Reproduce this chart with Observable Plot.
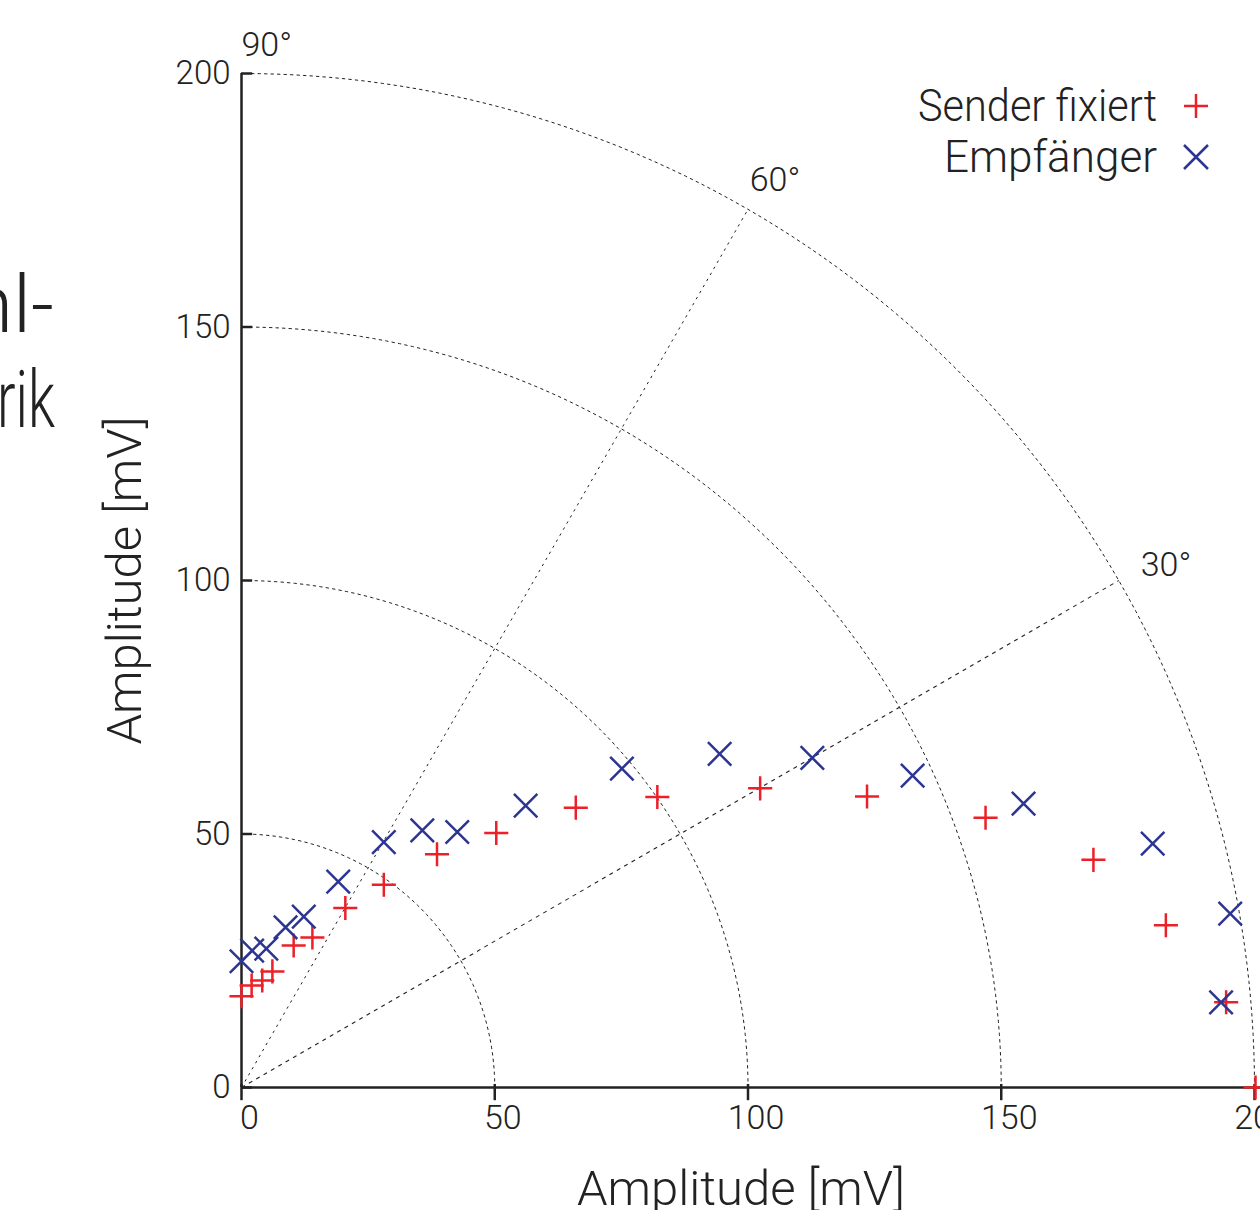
<!DOCTYPE html>
<html><head><meta charset="utf-8">
<script src="https://cdn.jsdelivr.net/npm/d3@7"></script>
<script src="https://cdn.jsdelivr.net/npm/@observablehq/plot@0.6"></script>
<style>
html,body{margin:0;padding:0;background:#fff;overflow:hidden;width:1260px;height:1210px}
#chart{position:relative;width:1260px;height:1210px;overflow:hidden}
</style></head><body><div id="chart"></div>
<script>
// ---- data ----
const axisTicks = [0, 50, 100, 150, 200];
const gridRadii = [50, 100, 150, 200];
const spokeAngles = [30, 60];
const angleLabelDeg = [30, 60, 90];
const angleLabelText = ["30°", "60°", "90°"];
const seriesNames = ["Sender fixiert", "Empfänger"];
const axisLabel = "Amplitude [mV]";
const titleFragments = ["nl-", "rik"];

// Sender fixiert (+)
const senderX = [0, 2.0, 4.1, 6.1, 10.3, 14.0, 20.5, 28.1, 38.6, 50.3, 66.0, 82.1, 102.4, 123.5, 146.9, 168.2, 182.5, 194.4, 200.2];
const senderY = [18.0, 20.1, 21.1, 22.9, 28.0, 29.6, 35.4, 40.0, 46.0, 50.2, 55.2, 57.3, 59.0, 57.4, 53.2, 44.9, 32.0, 16.8, 0];
// Empfänger (×)
const empfX = [0, 2.1, 4.9, 8.7, 12.3, 19.1, 28.1, 35.7, 42.6, 56.1, 75.1, 94.4, 112.7, 132.5, 154.4, 179.9, 195.2, 193.4];
const empfY = [24.9, 27.0, 27.4, 31.6, 33.7, 40.6, 48.4, 50.7, 50.4, 55.6, 62.9, 65.8, 65.0, 61.5, 56.0, 48.1, 34.3, 16.8];

// ---- build ----
const FONT = "Roboto, 'Open Sans', sans-serif";
const RED = "#ec2029", BLUE = "#2c3592", INK = "#222";
const rad = a => a * Math.PI / 180;

const sender = senderX.map((x, i) => ({x, y: senderY[i]}));
const empf = empfX.map((x, i) => ({x, y: empfY[i]}));
const arcs = gridRadii.flatMap(r => d3.range(0, 90.5, 1).map(a => ({r, x: r * Math.cos(rad(a)), y: r * Math.sin(rad(a))})));
const spokes = spokeAngles.map(a => ({a, x2: 200 * Math.cos(rad(a)), y2: 200 * Math.sin(rad(a))}));
const angLabels = angleLabelDeg.map((a, i) => ({a, text: angleLabelText[i], x: 205 * Math.cos(rad(a)), y: 205 * Math.sin(rad(a))}));

const plot = Plot.plot({
  width: 1260, height: 1210,
  marginLeft: 241, marginRight: 6, marginTop: 73, marginBottom: 123,
  style: {fontFamily: FONT, fontWeight: 300, fontSize: "33px", color: INK, background: "#fff", overflow: "visible"},
  x: {domain: [0, 200], axis: null},
  y: {domain: [0, 200], axis: null},
  marks: [
    Plot.line(arcs, {x: "x", y: "y", z: "r", stroke: INK, strokeWidth: 1, strokeDasharray: "2.5,4"}),
    Plot.link(spokes.filter(d => d.a === 30), {x1: 0, y1: 0, x2: "x2", y2: "y2", stroke: INK, strokeWidth: 1.1, strokeDasharray: "4,4.5"}),
    Plot.link(spokes.filter(d => d.a === 60), {x1: 0, y1: 0, x2: "x2", y2: "y2", stroke: INK, strokeWidth: 1, strokeDasharray: "2.5,4.5"}),
    Plot.ruleY([0], {x1: 0, x2: 206, stroke: INK, strokeWidth: 2.5}),
    Plot.ruleX([0], {y1: 0, y2: 200, stroke: INK, strokeWidth: 2.5}),
    Plot.ruleY(axisTicks, {x1: 0, x2: 2.2, stroke: INK, strokeWidth: 2.5}),
    Plot.ruleX(axisTicks, {y1: 0.6, y2: -2.6, stroke: INK, strokeWidth: 2.5}),
    Plot.text(axisTicks, {x: d => d, y: 0, text: d => String(d), dy: 31, dx: 8, fontSize: 34}),
    Plot.text(axisTicks, {x: 0, y: d => d, text: d => String(d), textAnchor: "end", dx: -11, fontSize: 33}),
    Plot.text(angLabels.filter(d => d.a !== 60), {x: "x", y: "y", text: "text", textAnchor: "start", fontSize: 34, dy: -3}),
    Plot.text(angLabels.filter(d => d.a === 60), {x: "x", y: "y", text: "text", textAnchor: "start", fontSize: 34, dx: -11, dy: -7}),
    Plot.dot(sender, {x: "x", y: "y", symbol: "plus", r: 7.8, stroke: RED, strokeWidth: 2.5}),
    Plot.dot(empf, {x: "x", y: "y", symbol: "times", r: 10.7, stroke: BLUE, strokeWidth: 2.5}),
    Plot.text([axisLabel], {frameAnchor: "bottom", dy: 117, dx: -7, fontSize: 49}),
    Plot.text([axisLabel], {frameAnchor: "left", textAnchor: "middle", lineAnchor: "middle", rotate: -90, dx: -116, fontSize: 49})
  ]
});

document.getElementById("chart").appendChild(plot);

// legend and cropped slide-title fragments
const svg = d3.select(plot);
const leg = svg.append("g").attr("font-family", FONT).attr("font-weight", 300).attr("font-size", 44).attr("fill", INK);
[[seriesNames[0], 121, "plus", RED, 239], [seriesNames[1], 172, "times", BLUE, 213]].forEach(([t, yb, sym, col, w]) => {
  leg.append("text").attr("x", 1157 - w).attr("y", yb).attr("text-anchor", "start")
    .attr("textLength", w).attr("lengthAdjust", "spacingAndGlyphs").text(t);
  const cy = yb - 15, cx = 1196;
  const p = sym === "plus"
    ? `M${cx - 12},${cy}H${cx + 12}M${cx},${cy - 12}V${cy + 12}`
    : `M${cx - 12},${cy - 12}L${cx + 12},${cy + 12}M${cx - 12},${cy + 12}L${cx + 12},${cy - 12}`;
  leg.append("path").attr("d", p).attr("stroke", col).attr("stroke-width", 2.5).attr("fill", "none");
});
const ttl = svg.append("g").attr("font-family", FONT).attr("font-weight", 300).attr("font-size", 80).attr("fill", INK);
ttl.append("text").attr("x", 54).attr("y", 332).attr("text-anchor", "end").text(titleFragments[0]);
ttl.append("text").attr("x", -3).attr("y", 427).attr("text-anchor", "start")
  .attr("textLength", 58).attr("lengthAdjust", "spacingAndGlyphs").text(titleFragments[1]);
</script></body></html>
